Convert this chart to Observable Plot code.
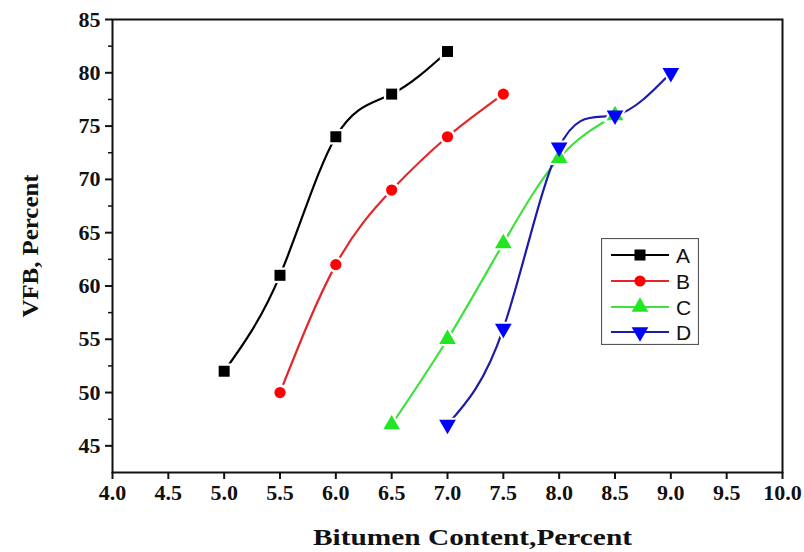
<!DOCTYPE html>
<html>
<head>
<meta charset="utf-8">
<script src="https://cdn.jsdelivr.net/npm/d3@7"></script>
<script src="https://cdn.jsdelivr.net/npm/@observablehq/plot@0.6"></script>
<style>
  html, body { margin: 0; padding: 0; background: #fff; }
  #wrap { position: relative; width: 804px; height: 552px; }
  #legend { position: absolute; left: 601px; top: 238px; }
</style>
</head>
<body>
<div id="wrap"></div>
<script>
// ---- data ----
const seriesNames = ["A", "B", "C", "D"];
const xA = [5.0, 5.5, 6.0, 6.5, 7.0];
const yA = [52, 61, 74, 78, 82];
const xB = [5.5, 6.0, 6.5, 7.0, 7.5];
const yB = [50, 62, 69, 74, 78];
const xC = [6.5, 7.0, 7.5, 8.0, 8.5];
const yC = [47, 55, 64, 72, 76];
const xD = [7.0, 7.5, 8.0, 8.5, 9.0];
const yD = [47, 56, 73, 76, 80];
const xTicks = [4.0, 4.5, 5.0, 5.5, 6.0, 6.5, 7.0, 7.5, 8.0, 8.5, 9.0, 9.5, 10.0];
const yTicks = [45, 50, 55, 60, 65, 70, 75, 80, 85];
const yMinorTicks = [47.5, 52.5, 57.5, 62.5, 67.5, 72.5, 77.5, 82.5];
const xLabel = "Bitumen Content,Percent";
const yLabel = "VFB, Percent";

const lineColors = ["#000000", "#e3262a", "#3fe03f", "#1c1ca8"];
const fillColors = ["#000000", "#ff0000", "#22e622", "#0000ff"];
const symbols = ["square", "circle", "triangle", "triangle"];
const rotations = [0, 0, 0, 180];
const radii = [6.2, 5.6, 6.2, 6.2];

const xs = [xA, xB, xC, xD];
const ys = [yA, yB, yC, yD];
const series = seriesNames.map((name, i) =>
  xs[i].map((x, j) => ({series: name, x, y: ys[i][j]}))
);

const serif = "'Liberation Serif', 'Times New Roman', serif";

const marks = [];
// lines
series.forEach((d, i) => {
  marks.push(Plot.line(d, {x: "x", y: "y", stroke: lineColors[i], strokeWidth: 2.2, curve: "natural"}));
});
// white halos (gap between line and marker)
series.forEach((d, i) => {
  marks.push(Plot.dot(d, {x: "x", y: "y", symbol: symbols[i], rotate: rotations[i], r: radii[i] + 2.6, fill: "white", stroke: "none"}));
});
// markers
series.forEach((d, i) => {
  marks.push(Plot.dot(d, {x: "x", y: "y", symbol: symbols[i], rotate: rotations[i], r: radii[i], fill: fillColors[i], stroke: "none"}));
});

const plot = Plot.plot({
  width: 804,
  height: 552,
  marginLeft: 112,
  marginRight: 22,
  marginTop: 19,
  marginBottom: 80,
  style: {fontFamily: serif, fontWeight: "bold", background: "white", color: "#111"},
  x: {domain: [4, 10]},
  y: {domain: [42.5, 85]},
  marks: [
    Plot.axisX({ticks: xTicks, tickFormat: d3.format(".1f"), tickSize: 7, tickPadding: 5, strokeWidth: 2, fontSize: 22, fontWeight: "bold", fontFamily: serif, label: null}),
    Plot.axisY({ticks: yTicks, tickSize: 7, tickPadding: 5, strokeWidth: 2, fontSize: 22, fontWeight: "bold", fontFamily: serif, label: null}),
    Plot.axisY({ticks: yMinorTicks, tickSize: 4, strokeWidth: 1.5, text: null, label: null}),
    Plot.frame({stroke: "#111", strokeWidth: 2}),
    ...marks,
    Plot.text([xLabel], {text: d => d, frameAnchor: "bottom", textAnchor: "middle", lineAnchor: "middle", dx: 25, dy: 65, fontSize: 24, fontWeight: "bold", fontFamily: serif, fill: "#111"}),
    Plot.text([yLabel], {text: d => d, frameAnchor: "left", textAnchor: "middle", lineAnchor: "middle", dx: -82, dy: 0, rotate: -90, fontSize: 24, fontWeight: "bold", fontFamily: serif, fill: "#111"})
  ]
});
document.getElementById("wrap").appendChild(plot);

// stretch axis titles to the reference's widths
d3.select(plot).selectAll("text").each(function() {
  const t = this.textContent;
  if (t === xLabel) d3.select(this).attr("textLength", 319).attr("lengthAdjust", "spacingAndGlyphs");
  if (t === yLabel) d3.select(this).attr("textLength", 143).attr("lengthAdjust", "spacingAndGlyphs");
});

// ---- legend overlay ----
const lw = 98, lh = 107;
const rowY = [17, 43, 69, 94];
const leg = d3.select("#wrap").append("svg")
  .attr("id", "legend").attr("width", lw).attr("height", lh);
leg.append("rect").attr("x", 0.5).attr("y", 0.5).attr("width", lw - 1).attr("height", lh - 1)
  .attr("fill", "white").attr("stroke", "#555").attr("stroke-width", 1.2);
const symMap = {square: d3.symbolSquare, circle: d3.symbolCircle, triangle: d3.symbolTriangle};
seriesNames.forEach((name, i) => {
  const g = leg.append("g").attr("transform", `translate(0,${rowY[i]})`);
  g.append("line").attr("x1", 10).attr("x2", 68).attr("y1", 0).attr("y2", 0)
    .attr("stroke", lineColors[i]).attr("stroke-width", 2);
  g.append("path")
    .attr("d", d3.symbol(symMap[symbols[i]], Math.PI * radii[i] * radii[i])())
    .attr("transform", `translate(39,0) rotate(${rotations[i]})`)
    .attr("fill", fillColors[i]);
  g.append("text").attr("x", 75).attr("y", 0).attr("dy", "0.36em")
    .attr("font-family", "'Liberation Sans', Arial, sans-serif").attr("font-size", 21)
    .attr("fill", "#111").text(name);
});
</script>
</body>
</html>
